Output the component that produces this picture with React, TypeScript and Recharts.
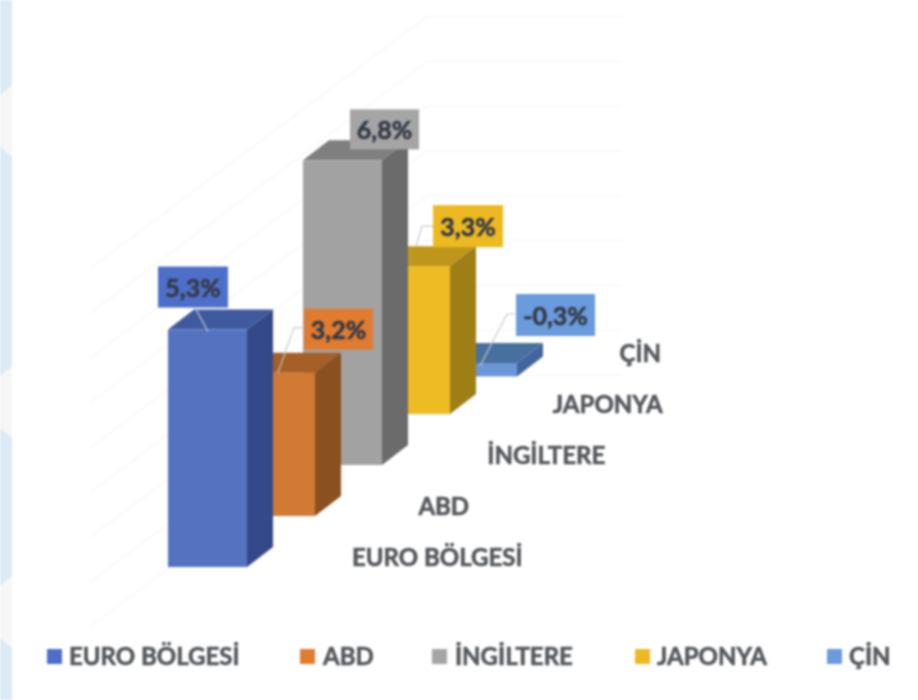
import React from 'react';
import { BarChart, Bar, XAxis, YAxis, Legend, LabelList } from 'recharts';

const categories = ['EURO BÖLGESİ', 'ABD', 'İNGİLTERE', 'JAPONYA', 'ÇİN'];
const growth = [5.3, 3.2, 6.8, 3.3, -0.3];

const frontColors = ['#5472bf', '#d17a34', '#a2a2a2', '#eebb25', '#6b96d8'];
const sideColors = ['#34498a', '#8a5020', '#6b6b6b', '#9d7f16', '#42669c'];
const topColors = ['#3f5a9f', '#a55f27', '#7f7f7f', '#bf961c', '#48709f'];
const boxColors = ['#4e6fc9', '#e07b30', '#a5a5a5', '#edb921', '#6a9bdc'];

// drawn back to front, the x axis is reversed so EURO still sits on the left
const rows = categories.map((name, i) => ({ name, value: growth[i] })).reverse();

const FRONT_W = 79;
const DEPTH_X = 26;
const DEPTH_Y = 20;
const ROW_STEP = 51;
const UNIT = 44.8;

// label box and leader line, relative to the front top right corner of the bar
const labelLayout = [
  { left: -89, top: -63, w: 70, h: 41, leader: [[-52, -22], [-39, 2]] },
  { left: -11, top: -64, w: 69, h: 41, leader: [[-11, -45], [-21, -45], [-37, 0]] },
  { left: -32, top: -51, w: 69, h: 40, leader: [] },
  { left: -17, top: -61, w: 70, h: 42, leader: [[-17, -40], [-28, -40], [-34, -20]] },
  { left: -1, top: -69, w: 79, h: 42, leader: [[-2, -49], [-10, -49], [-37, 3]] },
];

const tickOffsets = [224, 163, 198, 192, 157];
const legendSpots = [
  { marker: 47, text: 69 },
  { marker: 300, text: 323 },
  { marker: 432, text: 455 },
  { marker: 635, text: 657 },
  { marker: 827, text: 849 },
];

const points = (pts: number[][]) => pts.map((p) => p.join(',')).join(' ');

function Box3D({ x, y, width, height, payload }: any) {
  const i = categories.indexOf(payload.name);
  const right = Math.floor(x + width);
  const left = right - FRONT_W;
  const shift = i * ROW_STEP;
  const top = Math.min(y, y + height) - shift;
  const bottom = Math.max(y, y + height) - shift;
  return (
    <g>
      <polygon
        fill={topColors[i]}
        points={points([[left, top], [right, top], [right + DEPTH_X, top - DEPTH_Y], [left + DEPTH_X, top - DEPTH_Y]])}
      />
      <polygon
        fill={sideColors[i]}
        points={points([[right, top], [right + DEPTH_X, top - DEPTH_Y], [right + DEPTH_X, bottom - DEPTH_Y], [right, bottom]])}
      />
      <rect x={left} y={top} width={FRONT_W} height={bottom - top} fill={frontColors[i]} />
    </g>
  );
}

function ValueLabel({ x, y, width, height, value, index }: any) {
  const i = categories.indexOf(rows[index].name);
  const box = labelLayout[i];
  const right = Math.floor(x + width);
  const top = Math.min(y, y + height) - i * ROW_STEP;
  return (
    <g>
      {box.leader.length > 0 && (
        <polyline
          fill="none"
          stroke="#c9c9c9"
          strokeWidth={1.2}
          points={points(box.leader.map(([dx, dy]) => [right + dx, top + dy]))}
        />
      )}
      <rect x={right + box.left} y={top + box.top} width={box.w} height={box.h} fill={boxColors[i]} />
      <text
        x={right + box.left + box.w / 2}
        y={top + box.top + box.h / 2}
        textAnchor="middle"
        dominantBaseline="central"
        fontFamily="Lato"
        fontWeight={700}
        fontSize={25}
        fill="#343a46"
        stroke="#343a46"
        strokeWidth={0.6}
      >
        {String(value).replace('.', ',')}%
      </text>
    </g>
  );
}

function DepthTick({ x, y, payload }: any) {
  const i = categories.indexOf(payload.value);
  return (
    <text
      x={x + tickOffsets[i]}
      y={y - 63 - i * ROW_STEP}
      textAnchor="middle"
      dominantBaseline="central"
      fontFamily="Lato"
      fontWeight={700}
      fontSize={24}
      fill="#55585c"
      stroke="#55585c"
      strokeWidth={0.6}
    >
      {payload.value}
    </text>
  );
}

function LegendRow() {
  return (
    <div style={{ position: 'relative', width: 918, height: 40 }}>
      {categories.map((name, i) => (
        <React.Fragment key={name}>
          <span
            style={{
              position: 'absolute',
              left: legendSpots[i].marker,
              top: 9,
              width: 15,
              height: 15,
              background: boxColors[i],
            }}
          />
          <span
            style={{
              position: 'absolute',
              left: legendSpots[i].text,
              top: 2,
              lineHeight: '28px',
              whiteSpace: 'nowrap',
              fontFamily: 'Lato',
              fontWeight: 700,
              fontSize: 24,
              color: '#55585c',
              WebkitTextStroke: '0.6px #55585c',
            }}
          >
            {name}
          </span>
        </React.Fragment>
      ))}
    </div>
  );
}

// faint floor and back wall of the 3D plot, one line per unit
const wallLevels = [0, 1, 2, 3, 4, 5, 6, 7, 8];

function Backdrop() {
  return (
    <svg width={918} height={700} style={{ position: 'absolute', left: 0, top: 0 }}>
      <rect x={0} y={0} width={12} height={700} fill="#dceaf3" />
      {[85, 366, 576].map((py) => (
        <polygon key={py} fill="#f6f6f6" points={`0,${py + 10} 12,${py} 12,${py + 72} 0,${py + 62}`} />
      ))}
      {wallLevels.map((k) => (
        <polyline
          key={k}
          fill="none"
          stroke="#f8f8f8"
          strokeWidth={1.5}
          points={`90,${627 - k * UNIT} 427,${375 - k * UNIT} 622,${375 - k * UNIT}`}
        />
      ))}
    </svg>
  );
}

export default function App() {
  return (
    <div
      style={{
        position: 'absolute',
        left: 0,
        top: 0,
        width: 918,
        height: 700,
        background: '#fff',
        filter: 'blur(0.9px)',
      }}
    >
      <Backdrop />
      <div style={{ position: 'absolute', left: 0, top: 0 }}>
        <BarChart
          width={918}
          height={700}
          data={rows}
          barCategoryGap={0}
          margin={{ top: 29.4, right: 401, bottom: 18.2, left: 179.5 }}
        >
          <XAxis
            dataKey="name"
            reversed
            interval={0}
            height={30}
            axisLine={false}
            tickLine={false}
            tick={<DepthTick />}
          />
          <YAxis hide type="number" domain={[-1, 12]} />
          <Legend
            content={<LegendRow />}
            height={40}
            wrapperStyle={{ left: 0, top: 640, width: 918, height: 40 }}
          />
          <Bar dataKey="value" shape={<Box3D />} isAnimationActive={false}>
            <LabelList dataKey="value" content={<ValueLabel />} />
          </Bar>
        </BarChart>
      </div>
    </div>
  );
}
